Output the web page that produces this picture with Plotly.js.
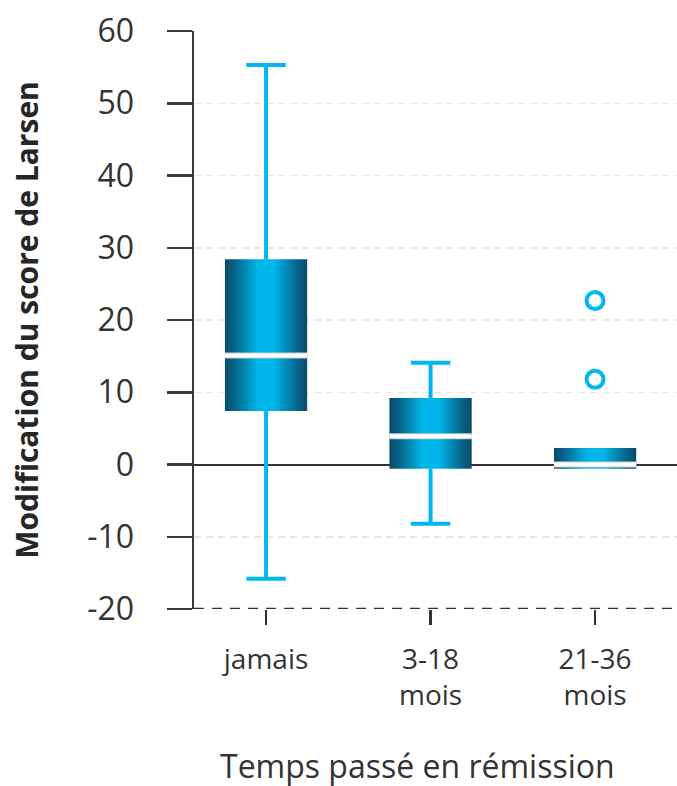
<!DOCTYPE html>
<html>
<head>
<meta charset="utf-8">
<script src="https://cdn.plot.ly/plotly-3.0.1.min.js"></script>
<style>
  html, body { margin: 0; padding: 0; background: #ffffff; }
  #chart { width: 677px; height: 786px; }
</style>
</head>
<body>
<div id="chart"></div>
<script>
// Change in Larsen score by time spent in remission
const groups = ['jamais', '3-18<br>mois', '21-36<br>mois'];
const lowerWhisker = [-15.8, -8.2, -0.6];
const q1 = [7.4, -0.6, -0.6];
const median = [15.1, 3.9, 0.0];
const q3 = [28.4, 9.2, 2.3];
const upperWhisker = [55.3, 14.1, 2.3];
const outlierGroup = ['21-36<br>mois', '21-36<br>mois'];
const outlierValues = [22.7, 11.8];
const yTickValues = [-20, -10, 0, 10, 20, 30, 40, 50, 60];

const FONT = 'Open Sans, Noto Sans, sans-serif';
const CYAN = '#00b8ef';
const DARK = '#333333';
const BOX_HALF = 0.25;
const CAP_HALF = 0.12;

const pos = groups.map((g, i) => i);

// whiskers with caps, drawn as one broken line
const wx = [], wy = [];
pos.forEach((p, i) => {
  if (upperWhisker[i] > q3[i]) {
    wx.push(p, p, null, p - CAP_HALF, p + CAP_HALF, null);
    wy.push(q3[i], upperWhisker[i], null, upperWhisker[i], upperWhisker[i], null);
  }
  if (lowerWhisker[i] < q1[i]) {
    wx.push(p, p, null, p - CAP_HALF, p + CAP_HALF, null);
    wy.push(q1[i], lowerWhisker[i], null, lowerWhisker[i], lowerWhisker[i], null);
  }
});

const traces = [];
traces.push({
  type: 'scatter', mode: 'lines', x: wx, y: wy,
  line: { color: CYAN, width: 4 }, hoverinfo: 'skip', showlegend: false
});

// interquartile boxes with a metallic horizontal gradient
pos.forEach((p, i) => {
  traces.push({
    type: 'scatter', mode: 'lines',
    x: [p - BOX_HALF, p + BOX_HALF, p + BOX_HALF, p - BOX_HALF, p - BOX_HALF],
    y: [q1[i], q1[i], q3[i], q3[i], q1[i]],
    fill: 'toself',
    fillgradient: {
      type: 'horizontal',
      colorscale: [
        [0, '#0a4b68'], [0.12, '#07648a'], [0.4, '#00b5ea'],
        [0.6, '#00b5ea'], [0.88, '#07648a'], [1, '#0a4b68']
      ]
    },
    line: { color: 'rgba(0,0,0,0)', width: 0 },
    hoverinfo: 'skip', showlegend: false
  });
});

// medians
const mx = [], my = [];
pos.forEach((p, i) => {
  mx.push(p - BOX_HALF, p + BOX_HALF, null);
  my.push(median[i], median[i], null);
});
traces.push({
  type: 'scatter', mode: 'lines', x: mx, y: my,
  line: { color: '#c9cfd3', width: 6 }, hoverinfo: 'skip', showlegend: false
});
traces.push({
  type: 'scatter', mode: 'lines', x: mx, y: my,
  line: { color: '#ffffff', width: 4 }, hoverinfo: 'skip', showlegend: false
});

// outliers
traces.push({
  type: 'scatter', mode: 'markers',
  x: outlierGroup.map(g => groups.indexOf(g)), y: outlierValues,
  marker: { symbol: 'circle-open', size: 17, color: CYAN, line: { color: CYAN, width: 4 } },
  showlegend: false
});

const layout = {
  width: 677, height: 786,
  margin: { l: 194, r: 0, t: 31, b: 177 },
  paper_bgcolor: '#ffffff', plot_bgcolor: '#ffffff',
  showlegend: false,
  font: { family: FONT, color: DARK },
  xaxis: {
    type: 'linear', range: [-0.438, 2.498], fixedrange: true,
    tickvals: pos, ticktext: groups,
    ticks: 'outside', ticklen: 15, tickwidth: 2.5, tickcolor: DARK,
    tickfont: { family: FONT, size: 28, color: DARK },
    ticklabelstandoff: 10,
    showline: false, showgrid: false, zeroline: false
  },
  yaxis: {
    range: [-20, 60], fixedrange: true,
    tickvals: yTickValues, ticktext: yTickValues.map(v => String(v)),
    ticks: 'outside', ticklen: 25, tickwidth: 2.5, tickcolor: '#3a3a3a',
    tickfont: { family: FONT, size: 32, color: DARK },
    ticklabelstandoff: 26,
    showline: true, linecolor: '#3a3a3a', linewidth: 2.5,
    showgrid: true, gridcolor: '#ebe7dc', gridwidth: 1.5, griddash: '7px,5px',
    zeroline: true, zerolinecolor: DARK, zerolinewidth: 2,
    title: {
      text: 'Modification du score de Larsen',
      font: { family: FONT, size: 30, color: '#262626', weight: 'bold' },
      standoff: 40
    }
  },
  shapes: [{
    type: 'line', xref: 'paper', x0: 0, x1: 1, yref: 'y', y0: -20, y1: -20,
    line: { color: DARK, width: 2.5, dash: '10px,8px' }
  }],
  annotations: [{
    text: 'Temps passé en rémission', showarrow: false,
    xref: 'paper', x: 0.462, xanchor: 'center',
    yref: 'paper', y: -0.27, yanchor: 'middle',
    font: { family: FONT, size: 32, color: DARK }
  }]
};

Plotly.newPlot('chart', traces, layout, { displayModeBar: false, staticPlot: true });
</script>
</body>
</html>
